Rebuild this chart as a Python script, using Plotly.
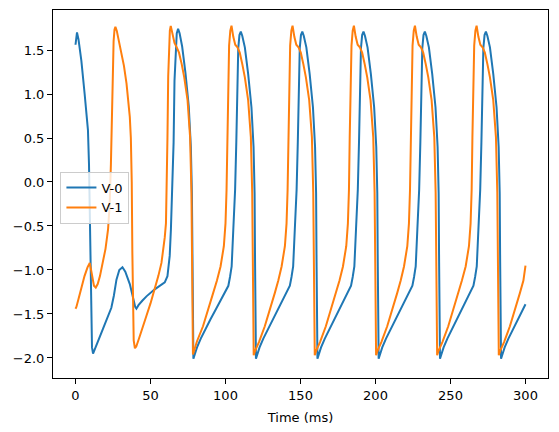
import plotly.graph_objects as go

# (time ms, value) readings for each trace
V0_POINTS = [
    (0.0, 1.56), (0.4, 1.66), (1.0, 1.70), (2.0, 1.62), (3.9, 1.38), (6.1, 1.00), (8.3, 0.59),
    (9.0, 0.20), (9.5, -0.40), (9.9, -1.10), (10.4, -1.65), (11.0, -1.88), (11.7, -1.95),
    (13.0, -1.89), (15.5, -1.79), (18.3, -1.67), (21.0, -1.56), (23.9, -1.43), (25.6, -1.29),
    (27.3, -1.11), (29.2, -1.00), (31.3, -0.97), (33.2, -1.02), (35.0, -1.10), (36.2, -1.16),
    (37.6, -1.26), (38.8, -1.35), (39.8, -1.42), (40.6, -1.44), (42.0, -1.40), (44.5, -1.35),
    (47.3, -1.30), (52.8, -1.22), (57.0, -1.17), (59.5, -1.14), (61.3, -1.07), (62.8, -0.84),
    (63.6, -0.54), (64.6, -0.09), (65.4, 0.45), (66.0, 1.15), (66.7, 1.52), (67.5, 1.69),
    (68.4, 1.74), (69.4, 1.69), (71.1, 1.54), (73.3, 1.24), (75.5, 0.86), (76.9, 0.40),
    (77.6, -0.13), (77.9, -0.90), (78.2, -1.70), (78.6, -2.01), (79.5, -1.96), (81.0, -1.88),
    (83.5, -1.78), (86.6, -1.67), (90.0, -1.56), (93.5, -1.45), (96.6, -1.35), (99.5, -1.26),
    (101.9, -1.18), (103.0, -1.08), (104.1, -0.96), (105.2, -0.54), (106.4, -0.09), (107.2, 0.45),
    (107.8, 1.15), (108.5, 1.52), (109.3, 1.67), (110.2, 1.71), (111.2, 1.66), (112.9, 1.53),
    (115.1, 1.23), (117.3, 0.85), (118.7, 0.40), (119.4, -0.13), (119.7, -0.90), (120.0, -1.70),
    (120.3, -2.01), (121.2, -1.96), (122.7, -1.88), (125.2, -1.78), (128.4, -1.67), (131.7, -1.56),
    (135.1, -1.45), (138.0, -1.35), (140.7, -1.26), (142.9, -1.18), (144.0, -1.08), (145.1, -0.96),
    (146.2, -0.54), (147.4, -0.09), (148.2, 0.45), (148.8, 1.15), (149.5, 1.52), (150.3, 1.67),
    (151.2, 1.71), (152.2, 1.66), (153.9, 1.53), (156.1, 1.23), (158.3, 0.85), (159.7, 0.40),
    (160.4, -0.13), (160.7, -0.90), (161.0, -1.70), (161.3, -2.01), (162.2, -1.96), (163.7, -1.88),
    (166.2, -1.78), (169.4, -1.67), (172.7, -1.56), (176.1, -1.45), (179.0, -1.35), (181.6, -1.26),
    (183.7, -1.18), (184.8, -1.08), (185.9, -0.96), (187.0, -0.54), (188.2, -0.09), (189.0, 0.45),
    (189.6, 1.15), (190.3, 1.52), (191.1, 1.67), (192.0, 1.71), (193.0, 1.66), (194.7, 1.53),
    (196.9, 1.23), (199.1, 0.85), (200.5, 0.40), (201.2, -0.13), (201.5, -0.90), (201.8, -1.70),
    (202.1, -2.01), (203.0, -1.96), (204.5, -1.88), (207.0, -1.78), (210.2, -1.67), (213.5, -1.56),
    (216.9, -1.45), (219.8, -1.35), (222.5, -1.26), (224.6, -1.18), (225.7, -1.08), (226.8, -0.96),
    (227.9, -0.54), (229.1, -0.09), (229.9, 0.45), (230.5, 1.15), (231.2, 1.52), (232.0, 1.67),
    (232.9, 1.71), (233.9, 1.66), (235.6, 1.53), (237.8, 1.23), (240.0, 0.85), (241.4, 0.40),
    (242.1, -0.13), (242.4, -0.90), (242.7, -1.70), (243.0, -2.01), (243.9, -1.96), (245.4, -1.88),
    (247.9, -1.78), (251.1, -1.67), (254.4, -1.56), (257.8, -1.45), (260.7, -1.35), (263.2, -1.26),
    (265.3, -1.18), (266.4, -1.08), (267.5, -0.96), (268.6, -0.54), (269.8, -0.09), (270.6, 0.45),
    (271.2, 1.15), (271.9, 1.52), (272.7, 1.67), (273.6, 1.71), (274.6, 1.66), (276.3, 1.53),
    (278.5, 1.23), (280.7, 0.85), (282.1, 0.40), (282.8, -0.13), (283.1, -0.90), (283.4, -1.70),
    (283.7, -2.01), (284.6, -1.96), (286.1, -1.88), (288.6, -1.78), (291.8, -1.67), (295.1, -1.56),
    (298.5, -1.45), (300.0, -1.39),
]

V1_POINTS = [
    (0.0, -1.44), (0.6, -1.42), (2.0, -1.33), (4.0, -1.19), (6.0, -1.07), (8.0, -0.97), (9.5, -0.92),
    (10.3, -0.99), (11.2, -1.10), (12.3, -1.18), (13.5, -1.20), (14.8, -1.16), (16.3, -1.07),
    (18.3, -0.92), (20.0, -0.76), (21.7, -0.54), (22.8, -0.25), (23.6, 0.20), (24.2, 0.80),
    (24.8, 1.30), (25.4, 1.60), (26.0, 1.73), (26.6, 1.765), (27.5, 1.72), (28.8, 1.62),
    (30.6, 1.49), (32.3, 1.32), (34.0, 1.12), (35.2, 0.93), (36.2, 0.74), (36.9, 0.50),
    (37.5, 0.00), (37.9, -0.80), (38.3, -1.50), (38.8, -1.80), (39.6, -1.89), (40.5, -1.87),
    (42.5, -1.77), (45.0, -1.63), (47.3, -1.52), (50.0, -1.38), (52.8, -1.22), (55.2, -1.07),
    (57.3, -0.92), (58.6, -0.76), (59.5, -0.63), (60.3, -0.47), (60.8, -0.09), (61.3, 0.50),
    (61.8, 1.20), (62.4, 1.55), (62.9, 1.72), (63.5, 1.775), (64.7, 1.66), (66.0, 1.58),
    (67.5, 1.53), (69.0, 1.47), (70.8, 1.34), (72.5, 1.19), (74.7, 0.93), (76.4, 0.51),
    (77.3, -0.12), (77.6, -0.90), (77.9, -1.70), (78.3, -1.96), (79.2, -1.91), (81.0, -1.81),
    (85.0, -1.64), (88.4, -1.46), (91.8, -1.26), (94.3, -1.12), (96.7, -0.96), (98.9, -0.73),
    (100.0, -0.47), (100.7, -0.09), (101.2, 0.50), (101.7, 1.20), (102.4, 1.55), (103.2, 1.72),
    (104.0, 1.776), (105.2, 1.65), (106.5, 1.56), (108.0, 1.53), (109.5, 1.47), (111.2, 1.34),
    (112.9, 1.19), (115.1, 0.93), (116.9, 0.51), (117.8, -0.12), (118.1, -0.90), (118.4, -1.70),
    (118.8, -1.97), (119.7, -1.92), (122.3, -1.82), (126.2, -1.64), (129.5, -1.46), (132.9, -1.26),
    (135.2, -1.12), (137.4, -0.96), (139.6, -0.73), (140.7, -0.47), (141.4, -0.09), (141.9, 0.50),
    (142.4, 1.20), (143.1, 1.55), (143.9, 1.72), (144.7, 1.776), (145.9, 1.65), (147.2, 1.56),
    (148.7, 1.53), (150.2, 1.47), (151.9, 1.34), (153.6, 1.19), (155.8, 0.93), (157.6, 0.51),
    (158.5, -0.12), (158.8, -0.90), (159.1, -1.70), (159.5, -1.97), (160.4, -1.92), (163.0, -1.82),
    (166.9, -1.64), (170.2, -1.46), (173.6, -1.26), (176.0, -1.12), (178.3, -0.96), (180.5, -0.73),
    (181.6, -0.47), (182.3, -0.09), (182.8, 0.50), (183.3, 1.20), (184.0, 1.55), (184.8, 1.72),
    (185.6, 1.776), (186.8, 1.65), (188.1, 1.56), (189.6, 1.53), (191.1, 1.47), (192.8, 1.34),
    (194.5, 1.19), (196.7, 0.93), (198.5, 0.51), (199.4, -0.12), (199.7, -0.90), (200.0, -1.70),
    (200.4, -1.97), (201.3, -1.92), (203.9, -1.82), (207.8, -1.64), (211.1, -1.46), (214.5, -1.26),
    (216.8, -1.12), (219.0, -0.96), (221.2, -0.73), (222.3, -0.47), (223.0, -0.09), (223.5, 0.50),
    (224.0, 1.20), (224.7, 1.55), (225.5, 1.72), (226.3, 1.776), (227.5, 1.65), (228.8, 1.56),
    (230.3, 1.53), (231.8, 1.47), (233.5, 1.34), (235.2, 1.19), (237.4, 0.93), (239.2, 0.51),
    (240.1, -0.12), (240.4, -0.90), (240.7, -1.70), (241.1, -1.97), (242.0, -1.92), (244.6, -1.82),
    (248.5, -1.64), (251.8, -1.46), (255.2, -1.26), (257.6, -1.12), (260.1, -0.96), (262.3, -0.73),
    (263.4, -0.47), (264.1, -0.09), (264.6, 0.50), (265.1, 1.20), (265.8, 1.55), (266.6, 1.72),
    (267.4, 1.776), (268.6, 1.65), (269.9, 1.56), (271.4, 1.53), (272.9, 1.47), (274.6, 1.34),
    (276.3, 1.19), (278.5, 0.93), (280.3, 0.51), (281.2, -0.12), (281.5, -0.90), (281.8, -1.70),
    (282.2, -1.97), (283.1, -1.92), (285.7, -1.82), (289.6, -1.64), (292.9, -1.46), (296.3, -1.26),
    (298.6, -1.12), (300.0, -0.95),
]

SERIES_NAMES = ["V-0", "V-1"]
X_TICKS = [0, 50, 100, 150, 200, 250, 300]
Y_TICKS = [-2.0, -1.5, -1.0, -0.5, 0.0, 0.5, 1.0, 1.5]
X_LABEL = "Time (ms)"

t0 = [p[0] for p in V0_POINTS]
y0 = [p[1] for p in V0_POINTS]
t1 = [p[0] for p in V1_POINTS]
y1 = [p[1] for p in V1_POINTS]

FONT = "DejaVu Sans"
fig = go.Figure()
fig.add_trace(go.Scatter(x=t0, y=y0, mode="lines", name=SERIES_NAMES[0],
                         line=dict(color="#1f77b4", width=2)))
fig.add_trace(go.Scatter(x=t1, y=y1, mode="lines", name=SERIES_NAMES[1],
                         line=dict(color="#ff7f0e", width=2)))

axis_common = dict(showgrid=False, zeroline=False, showline=True, linecolor="black",
                   linewidth=1, mirror=True, ticks="outside", ticklen=5, tickwidth=1,
                   tickcolor="black", tickfont=dict(family=FONT, size=13, color="black"))

fig.update_layout(
    width=559, height=432,
    margin=dict(l=53, r=11, t=9, b=53),
    paper_bgcolor="white", plot_bgcolor="white",
    font=dict(family=FONT, size=13, color="black"),
    xaxis=dict(range=[-15, 315], tickvals=X_TICKS, ticktext=[str(v) for v in X_TICKS],
               title=dict(text=X_LABEL, font=dict(family=FONT, size=13), standoff=11),
               **axis_common),
    yaxis=dict(range=[-2.228, 1.955], tickvals=Y_TICKS,
               ticktext=[("\u2212" if v < 0 else "") + f"{abs(v):.1f}" for v in Y_TICKS],
               **axis_common),
    legend=dict(x=0.015, y=0.561, xanchor="left", yanchor="top",
                bgcolor="rgba(255,255,255,0.8)", bordercolor="#cccccc", borderwidth=1,
                font=dict(family=FONT, size=13), itemwidth=30, tracegroupgap=0),
    showlegend=True,
)

fig.write_html("out.html")
